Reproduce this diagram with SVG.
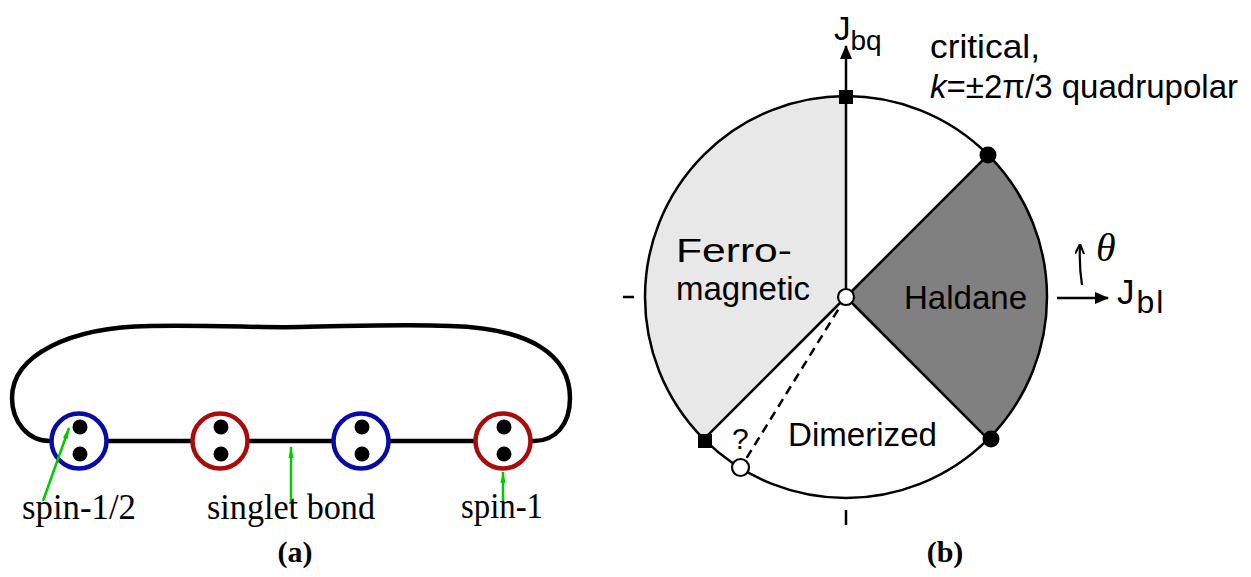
<svg xmlns="http://www.w3.org/2000/svg" width="1251" height="577" viewBox="0 0 1251 577">
<style>
.ser{font-family:"Liberation Serif","Times New Roman",serif;fill:#000}
.san{font-family:"Liberation Sans",Arial,sans-serif;fill:#000}
.lbl{font-size:35px}
.bk{stroke:#000;fill:none}
.g{stroke:#00cc00;stroke-width:2.5;fill:none}
.site{fill:#fff;stroke-width:4.5}
.blue{stroke:#0a0aa5}
.red{stroke:#a80c0c}
.dot{fill:#000}
.ph{font-size:33px}
.cap{font-size:30px;font-weight:bold}
</style>
<defs>
<marker id="ga" viewBox="0 0 12 6" refX="11" refY="3" markerWidth="12" markerHeight="6" markerUnits="userSpaceOnUse" orient="auto">
<path d="M0,0.5 L12,3 L0,5.5 z" fill="#00cc00"/>
</marker>
<marker id="ba" viewBox="0 0 14 12" refX="13" refY="6" markerWidth="14" markerHeight="12" markerUnits="userSpaceOnUse" orient="auto">
<path d="M0,0 L14,6 L0,12 z" fill="#000"/>
</marker>
<marker id="sa" viewBox="0 0 10 10" refX="9" refY="5" markerWidth="10" markerHeight="10" markerUnits="userSpaceOnUse" orient="auto">
<path d="M0,0.5 L10,5 L0,9.5" fill="none" stroke="#000" stroke-width="2"/>
</marker>
</defs>

<!-- Panel (a) -->
<g id="connectors-a">
<path class="bk" stroke-width="4.5" d="M 50 441 C 28 441, 12 422, 12 398 C 12 355, 70 327, 150 326 C 220 325, 260 328, 300 327 C 360 326, 400 324, 450 326 C 530 328, 570 355, 570 398 C 570 425, 555 441, 534 441"/>
<line class="bk" stroke-width="4.5" x1="50" y1="441" x2="534" y2="441"/>
</g>
<g id="site1"><circle class="site blue" cx="79" cy="441" r="27.5"/><circle class="dot" cx="80" cy="427" r="7.5"/><circle class="dot" cx="80" cy="454" r="7.5"/></g>
<g id="site2"><circle class="site red" cx="220" cy="441" r="27.5"/><circle class="dot" cx="221" cy="427" r="7.5"/><circle class="dot" cx="221" cy="454" r="7.5"/></g>
<g id="site3"><circle class="site blue" cx="361" cy="441" r="27.5"/><circle class="dot" cx="362" cy="427" r="7.5"/><circle class="dot" cx="362" cy="454" r="7.5"/></g>
<g id="site4"><circle class="site red" cx="503" cy="441" r="27.5"/><circle class="dot" cx="504" cy="427" r="7.5"/><circle class="dot" cx="504" cy="454" r="7.5"/></g>
<g id="pointers-a">
<line class="g" x1="43" y1="501" x2="69" y2="428" marker-end="url(#ga)"/>
<line class="g" x1="291" y1="502" x2="291" y2="447" marker-end="url(#ga)"/>
<line class="g" x1="503" y1="501" x2="503" y2="472" marker-end="url(#ga)"/>
</g>
<g id="labels-a">
<text class="ser lbl" x="22" y="519" textLength="114" lengthAdjust="spacingAndGlyphs">spin-1/2</text>
<text class="ser lbl" x="207" y="519" textLength="168" lengthAdjust="spacingAndGlyphs">singlet bond</text>
<text class="ser lbl" x="461" y="518" textLength="82" lengthAdjust="spacingAndGlyphs">spin-1</text>
<text class="ser cap" x="295" y="562" text-anchor="middle">(a)</text>
</g>

<!-- Panel (b) -->
<g id="ferro"><path d="M846,297 L846,96 A201,201 0 0 0 703.9,439.1 Z" fill="#e8e8e8"/></g>
<g id="haldane"><path d="M846,297 L988.1,154.9 A201,201 0 0 1 988.1,439.1 Z" fill="#808080"/></g>
<g id="boundary"><circle cx="846" cy="297" r="201" class="bk" stroke-width="2.5"/></g>
<g id="connectors-b">
<line class="bk" stroke-width="2.5" x1="846" y1="297" x2="846" y2="96"/>
<line class="bk" stroke-width="2.5" x1="846" y1="97" x2="846" y2="46" marker-end="url(#ba)"/>
<line class="bk" stroke-width="2.5" x1="846" y1="297" x2="988.1" y2="154.9"/>
<line class="bk" stroke-width="2.5" x1="846" y1="297" x2="988.1" y2="439.1"/>
<line class="bk" stroke-width="2.5" x1="846" y1="297" x2="703.9" y2="439.1"/>
<line class="bk" stroke-width="2.5" stroke-dasharray="9,6" x1="846" y1="297" x2="740.4" y2="468"/>
<line class="bk" stroke-width="2.5" x1="1057" y1="298" x2="1108" y2="298" marker-end="url(#ba)"/>
<path class="bk" stroke-width="2.2" d="M1082,285 Q1079,266 1080,245" marker-end="url(#sa)"/>
<line class="bk" stroke-width="2.5" x1="623" y1="297" x2="634" y2="297"/>
<line class="bk" stroke-width="2.5" x1="846" y1="510" x2="846" y2="525"/>
</g>
<g id="markers-b">
<rect x="839" y="90" width="14" height="14" fill="#000"/>
<rect x="698" y="434" width="14" height="14" fill="#000"/>
<circle cx="988" cy="155" r="8.5" fill="#000"/>
<circle cx="991" cy="439" r="8.5" fill="#000"/>
<circle cx="846" cy="297" r="8" fill="#fff" stroke="#000" stroke-width="2.2"/>
<circle cx="740.5" cy="467.5" r="8.5" fill="#fff" stroke="#000" stroke-width="2.2"/>
</g>
<g id="labels-b">
<text class="san" x="834" y="40" font-size="33">J<tspan font-size="28" dy="10">bq</tspan></text>
<text class="san ph" x="930" y="58" textLength="110" lengthAdjust="spacingAndGlyphs">critical,</text>
<text class="san ph" x="930" y="98" textLength="308" lengthAdjust="spacingAndGlyphs"><tspan font-style="italic">k</tspan>=±2π/3 quadrupolar</text>
<text class="san ph" x="676" y="262" textLength="116" lengthAdjust="spacingAndGlyphs">Ferro-</text>
<text class="san ph" x="676" y="300" textLength="134" lengthAdjust="spacingAndGlyphs">magnetic</text>
<text class="san ph" x="904" y="309" textLength="123" lengthAdjust="spacingAndGlyphs">Haldane</text>
<text class="san ph" x="788" y="446" textLength="149" lengthAdjust="spacingAndGlyphs">Dimerized</text>
<text class="san" x="732" y="449" font-size="30">?</text>
<text class="ser" x="1096" y="261" font-size="40" font-style="italic">θ</text>
<text class="san" x="1117" y="304" font-size="35">J<tspan font-size="32" dx="2" dy="9" letter-spacing="2">bl</tspan></text>
<text class="ser cap" x="945" y="562" text-anchor="middle">(b)</text>
</g>
</svg>
